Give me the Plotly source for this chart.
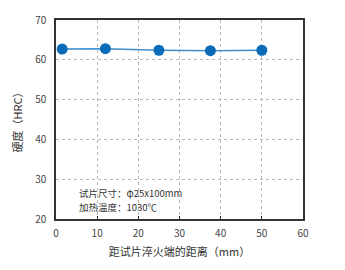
import plotly.graph_objects as go

distance_mm = [1.5, 12, 25, 37.5, 50]
hardness_hrc = [62.7, 62.8, 62.4, 62.3, 62.4]
x_ticks = [0, 10, 20, 30, 40, 50, 60]
y_ticks = [20, 30, 40, 50, 60, 70]
note_lines = ["试片尺寸：φ25x100mm", "加热温度：1030℃"]

fig = go.Figure()
fig.add_trace(go.Scatter(
    x=distance_mm, y=hardness_hrc, mode="lines+markers",
    line=dict(color="#3f8fce", width=1.5),
    marker=dict(color="#0a6cb8", size=11),
    showlegend=False,
))

font = "Noto Sans CJK SC"
fig.update_layout(
    width=345, height=270,
    margin=dict(l=56, r=42, t=20, b=51),
    paper_bgcolor="white", plot_bgcolor="white",
    font=dict(family=font, size=10, color="#444"),
    xaxis=dict(range=[0, 60], tickvals=x_ticks, showgrid=True,
               gridcolor="#b8b8b8", griddash="dot", gridwidth=1,
               showline=True, linecolor="#333", linewidth=1.5, mirror=True,
               ticks="inside", ticklen=3, tickcolor="#333", zeroline=False,
               ticklabelstandoff=4,
               title=dict(text="距试片淬火端的距离（mm）", font=dict(size=11, color="#333"), standoff=10)),
    yaxis=dict(range=[20, 70], tickvals=y_ticks, showgrid=True,
               gridcolor="#b8b8b8", griddash="dot", gridwidth=1,
               showline=True, linecolor="#333", linewidth=1.5, mirror=True,
               ticks="", zeroline=False, ticklabelstandoff=6,
               title=dict(text="硬度（HRC）", font=dict(size=11, color="#333"), standoff=10)),
)
for i, t in enumerate(note_lines):
    fig.add_annotation(x=5.3, y=26.5 - i * 3.5, xref="x", yref="y", text=t,
                       showarrow=False, xanchor="left", yanchor="middle",
                       borderpad=0,
                       font=dict(size=9.5, color="#333", family=font))

fig.write_html("out.html")
